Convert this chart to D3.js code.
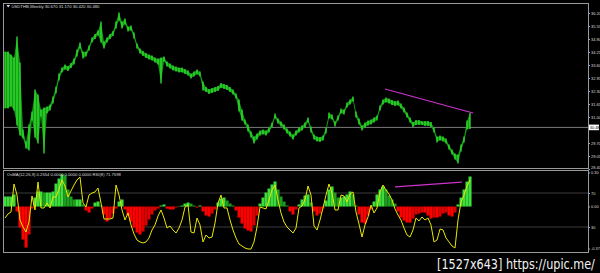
<!DOCTYPE html>
<html><head><meta charset="utf-8">
<script src="https://cdn.jsdelivr.net/npm/d3@7"></script>
<style>html,body{margin:0;padding:0;background:#000;overflow:hidden}</style>
</head><body>
<svg id="c" width="600" height="273"></svg>
<script>
// ---- data ----
const highs=[
34.25,34.25,34.10,33.95,35.00,33.70,30.35,29.75,30.60,31.25,
32.35,32.10,31.35,31.45,31.50,31.60,32.00,32.50,33.15,33.45,
33.60,33.52,33.67,33.90,34.35,34.70,34.25,34.25,34.55,34.95,
35.12,35.30,35.75,34.75,34.95,35.12,35.27,35.75,36.20,35.75,
35.90,35.50,35.55,35.20,34.65,34.40,34.27,34.17,34.10,34.05,
33.95,33.90,33.95,34.00,33.75,33.65,33.55,33.50,33.45,33.45,
33.37,33.30,33.15,33.25,33.35,33.25,32.75,32.47,32.37,32.42,
32.47,32.52,32.67,32.62,32.57,32.47,32.35,32.15,31.85,31.35,
30.85,30.60,30.25,30.00,30.15,30.30,30.35,30.30,30.45,30.70,
31.15,30.90,30.75,30.60,30.40,30.25,30.10,30.30,30.45,30.55,
30.70,30.95,30.50,30.10,30.00,29.97,30.05,30.45,31.20,31.10,
30.75,31.05,31.40,31.35,31.70,31.85,32.00,31.25,30.90,30.55,
30.70,30.80,30.85,30.95,31.05,31.55,31.85,31.95,31.90,31.82,
31.77,31.80,31.65,31.45,31.20,30.95,30.72,30.82,30.82,30.78,
30.77,30.77,30.72,30.45,30.00,30.05,30.00,29.90,29.60,29.35,
29.15,29.10,29.60,30.00,30.80,31.17];
const lows=[
31.45,31.45,31.55,31.35,30.60,30.10,29.95,29.45,29.35,30.85,
30.00,29.70,31.05,29.20,31.20,31.35,31.70,32.20,32.85,33.25,
33.40,33.33,33.48,33.65,34.05,34.45,33.95,34.05,34.35,34.75,
34.93,35.10,34.75,34.45,34.75,34.93,35.08,35.45,35.85,35.45,
35.65,35.30,35.35,34.95,34.45,34.20,34.08,33.98,33.90,33.85,
33.75,33.65,32.70,33.80,33.55,33.45,33.35,33.30,33.25,33.25,
33.18,33.10,32.95,33.05,33.15,33.05,32.35,32.28,32.18,32.23,
32.28,32.33,32.48,32.43,32.38,32.28,32.15,31.95,31.30,30.85,
30.65,30.30,30.00,29.70,29.90,30.10,30.15,30.10,30.25,30.50,
30.95,30.70,30.55,30.40,30.20,30.05,29.90,30.10,30.25,30.35,
30.50,30.75,30.25,29.90,29.80,29.78,29.85,30.20,30.95,30.90,
30.55,30.85,31.20,31.15,31.50,31.65,31.80,31.00,30.65,30.35,
30.50,30.60,30.65,30.75,30.85,31.35,31.65,31.75,31.70,31.63,
31.58,31.60,31.45,31.25,31.00,30.75,30.53,30.63,30.63,30.62,
30.58,30.58,30.53,30.25,29.75,29.85,29.80,29.70,29.40,29.15,
28.90,28.70,29.30,29.75,30.40,30.42];
const osma=[
0.088,0.088,0.088,0.106,-0.044,-0.185,-0.290,-0.361,-0.246,-0.018,
0.079,0.132,0.132,0.123,0.123,0.123,0.132,0.202,0.246,0.282,
0.273,0.150,0.088,0.062,0.062,0.062,0.018,-0.035,-0.053,-0.018,
0.035,0.044,0.009,-0.070,-0.132,-0.106,-0.062,-0.018,0.044,0.062,
-0.026,-0.079,-0.132,-0.185,-0.229,-0.246,-0.220,-0.167,-0.114,-0.070,
-0.035,-0.018,0.009,0.018,-0.018,-0.026,-0.026,-0.009,0.003,0.009,
0.026,0.035,0.026,0.009,-0.009,0.009,-0.044,-0.079,-0.088,-0.062,
-0.026,0.035,0.070,0.079,0.053,0.026,0.009,-0.035,-0.097,-0.150,
-0.194,-0.211,-0.220,-0.167,-0.079,0.026,0.079,0.123,0.158,0.194,
0.220,0.150,0.088,0.044,0.009,-0.044,-0.070,-0.026,0.018,0.062,
0.097,0.106,0.035,-0.044,-0.079,-0.062,-0.018,0.053,0.150,0.176,
0.123,0.079,0.079,0.088,0.106,0.132,0.106,0.009,-0.070,-0.141,
-0.150,-0.079,-0.026,0.044,0.106,0.150,0.176,0.150,0.097,0.062,
0.026,-0.044,-0.097,-0.123,-0.141,-0.141,-0.106,-0.070,-0.062,-0.053,
-0.053,-0.079,-0.106,-0.097,-0.097,-0.088,-0.062,-0.053,-0.079,-0.088,
-0.053,0.018,0.079,0.150,0.220,0.264];
const rsi=[
40.6,45.3,47.6,80.6,67.6,38.2,30.0,24.1,35.9,66.5,
50.0,82.9,52.4,52.4,58.2,52.4,65.3,65.3,74.7,85.3,
78.2,65.3,72.4,79.4,85.3,88.8,58.2,53.5,67.6,70.0,
71.2,75.9,58.2,39.4,39.4,39.4,40.6,79.4,67.6,50.0,
38.2,46.5,32.4,21.8,14.7,12.4,11.2,12.4,17.1,26.5,
32.4,42.9,50.0,40.6,28.8,31.2,26.5,22.9,28.8,38.2,
53.5,55.9,24.1,22.9,40.6,32.4,12.4,20.6,17.1,18.2,
34.7,58.2,67.6,52.4,52.4,38.2,26.5,17.1,10.0,7.6,
5.3,4.1,4.1,12.4,30.0,53.5,52.4,51.2,61.8,73.5,
79.4,61.8,46.5,35.9,30.0,26.5,22.9,28.8,52.4,54.7,
61.8,78.2,67.6,31.2,26.5,38.2,52.4,67.6,80.6,70.0,
50.0,50.0,67.6,66.5,59.4,68.8,71.2,47.6,33.5,18.2,
32.4,41.8,55.9,46.5,52.4,71.2,79.4,73.5,68.8,61.8,
51.2,44.1,38.2,28.8,20.6,18.2,26.5,40.6,37.1,41.8,
38.2,40.6,32.4,12.4,14.7,27.6,26.5,17.1,12.4,7.6,
5.3,38.2,59.4,67.6,78.2,85.3];
const priceTicks=[36.20,35.55,34.90,34.25,33.60,32.95,32.30,31.65,31.00,29.70,29.05,28.40];
const osmaTicks=[0.30,0.00,-0.37];
const rsiLevels=[70,30];
const lastPrice=30.48;
const priceTrend=[[126.67,32.40],[156,31.20]];   // [bar index, price]
const rsiTrend=[[130,77.1],[152.3,82.9]];         // [bar index, RSI]
const title="USDTHB,Weekly  30.670 31.170 30.420 30.480";
const subTitle="OsMA(12,26,9) 0.2554 0.0000 0.0000 0.0000 RSI(8) 71.7598";
const watermark="[1527x643] https://upic.me/";

// ---- layout ----
const L=3,R=588,MT=3,MB=168,ST=170,SB=252;
const FF="Liberation Sans, Arial, sans-serif";
const svg=d3.select("#c");
svg.append("rect").attr("width",600).attr("height",273).attr("fill","#000");
const defs=svg.append("defs");
defs.append("clipPath").attr("id","cm").append("rect").attr("x",L+1).attr("y",MT+1).attr("width",R-L-1).attr("height",MB-MT-1);
defs.append("clipPath").attr("id","cs").append("rect").attr("x",L+1).attr("y",ST+1).attr("width",R-L-1).attr("height",SB-ST-1);

const N=highs.length;
const xs=d3.scaleLinear().domain([0,N-1]).range([5,470]);
const ys=d3.scaleLinear().domain([28.40,36.20]).range([169,13]);
const yo=d3.scaleLinear().domain([-0.40,0.33]).range([252,169]);
const yr=d3.scaleLinear().domain([0,100]).range([252.5,167.5]);

// main panel
const gm=svg.append("g").attr("clip-path","url(#cm)");
gm.append("line").attr("x1",L).attr("x2",R).attr("y1",ys(lastPrice)).attr("y2",ys(lastPrice))
  .attr("stroke","#7a7a7a").attr("stroke-width",1);
gm.append("path").datum(highs).attr("fill","#169a16")
  .attr("d",d3.area().x((d,i)=>xs(i)).y0((d,i)=>ys(lows[i])).y1(d=>ys(d)));
gm.selectAll("line.bar").data(highs).enter().append("line").attr("class","bar")
  .attr("x1",(d,i)=>xs(i)).attr("x2",(d,i)=>xs(i))
  .attr("y1",d=>ys(d)-0.5).attr("y2",(d,i)=>ys(lows[i])+0.5)
  .attr("stroke","#30e030").attr("stroke-width",1.3);
gm.append("line").attr("x1",xs(priceTrend[0][0])).attr("y1",ys(priceTrend[0][1]))
  .attr("x2",xs(priceTrend[1][0])).attr("y2",ys(priceTrend[1][1]))
  .attr("stroke","#cc33cc").attr("stroke-width",1.2);

// sub panel
const gs=svg.append("g").attr("clip-path","url(#cs)");
rsiLevels.forEach(v=>{
  gs.append("line").attr("x1",L).attr("x2",R).attr("y1",yr(v)).attr("y2",yr(v))
   .attr("stroke","#3c3c3c").attr("stroke-width",1);
});
gs.selectAll("rect.h").data(osma).enter().append("rect").attr("class","h")
  .attr("x",(d,i)=>xs(i)-1.5).attr("width",3.05)
  .attr("y",d=>Math.min(yo(d),yo(0))).attr("height",d=>Math.abs(yo(d)-yo(0)))
  .attr("fill",(d,i)=>{const p=i>0?osma[i-1]:d;
     if(d>=0) return d>=p?"#3ddd3d":"#1e9e1e";
     return d<=p?"#ff0000":"#e00000";});
gs.append("path").datum(rsi).attr("fill","none").attr("stroke","#e8e800").attr("stroke-width",1)
  .attr("d",d3.line().x((d,i)=>xs(i)).y(d=>yr(d)));
gs.append("line").attr("x1",xs(rsiTrend[0][0])).attr("y1",yr(rsiTrend[0][1]))
  .attr("x2",xs(rsiTrend[1][0])).attr("y2",yr(rsiTrend[1][1]))
  .attr("stroke","#cc33cc").attr("stroke-width",1.2);

// frames
[[MT,MB],[ST,SB]].forEach(([t,b])=>{
  svg.append("rect").attr("x",L+0.5).attr("y",t+0.5).attr("width",R-L).attr("height",b-t)
   .attr("fill","none").attr("stroke","#9a9a9a").attr("stroke-width",1);
});

// axes
const fontS=3.9;
function styleAxis(g){
  g.select(".domain").remove();
  g.selectAll("line").attr("stroke","#aaa");
  g.selectAll("text").attr("fill","#ddd").style("font-size",fontS+"px").style("font-family",FF);
}
const ax=svg.append("g").attr("transform",`translate(${R+0.5},0)`)
  .call(d3.axisRight(ys).tickValues(priceTicks).tickSize(1.5).tickPadding(1).tickFormat(d=>d.toFixed(2)));
styleAxis(ax);
ax.selectAll(".tick").filter(d=>d===priceTicks[priceTicks.length-1]).select("text").attr("dy","-0.2em");

// current price marker
svg.append("rect").attr("x",R+1).attr("y",ys(lastPrice)-2.8).attr("width",10).attr("height",5.6).attr("fill","#fff");
svg.append("text").attr("x",R+1.8).attr("y",ys(lastPrice)+1.4).text(lastPrice.toFixed(2))
  .attr("fill","#000").style("font-size",fontS+"px").style("font-family",FF);

const ao=svg.append("g").attr("transform",`translate(${R+0.5},0)`)
  .call(d3.axisRight(yo).tickValues(osmaTicks).tickSize(1.5).tickPadding(1).tickFormat(d=>d.toFixed(2)));
styleAxis(ao);
const ar=svg.append("g").attr("transform",`translate(${R+0.5},0)`)
  .call(d3.axisRight(yr).tickValues(rsiLevels).tickSize(1.5).tickPadding(1).tickFormat(d3.format("d")));
styleAxis(ar);

// titles
svg.append("path").attr("d","M6.5,5 L10,5 L8.25,7.5 Z").attr("fill","#ddd");
svg.append("text").attr("x",11.5).attr("y",7.6).text(title).attr("fill","#ddd")
  .style("font-size","4.2px").style("font-family",FF);
svg.append("text").attr("x",7).attr("y",175.6).text(subTitle).attr("fill","#ddd")
  .style("font-size","4.2px").style("font-family",FF);

// watermark (horizontally condensed to the reference width)
const wg=svg.append("g");
const wt=wg.append("text").attr("x",0).attr("y",0).text(watermark).attr("fill","#f2f2f2")
  .style("font-size","13.5px").style("font-family","DejaVu Sans, sans-serif");
const natural=wt.node().getComputedTextLength();
wg.attr("transform",`translate(437,268.5) scale(${158/natural},1)`);
</script>
</body></html>
